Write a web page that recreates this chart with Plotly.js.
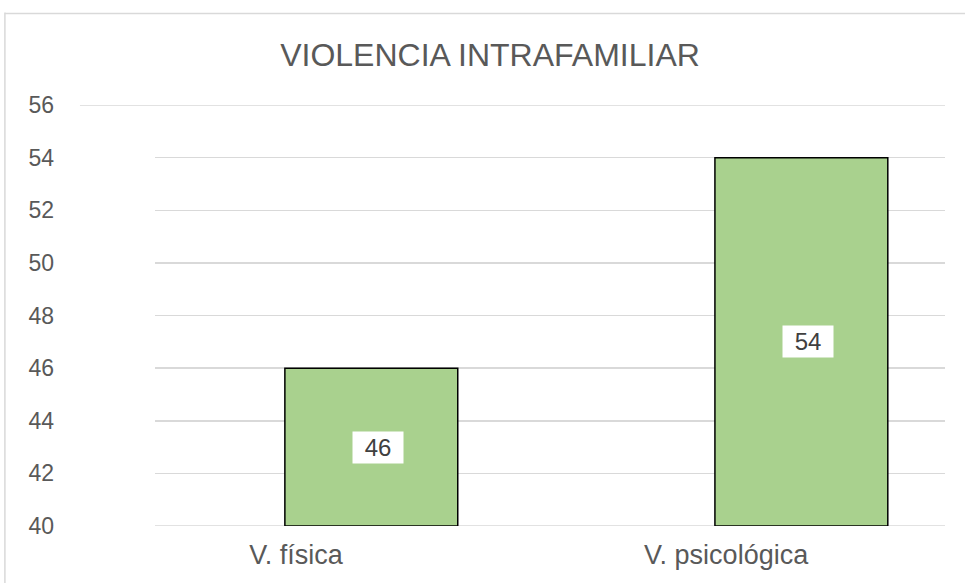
<!DOCTYPE html>
<html>
<head>
<meta charset="utf-8">
<script src="https://cdn.plot.ly/plotly-3.0.1.min.js"></script>
<style>
html,body{margin:0;padding:0;background:#fff;}
#chart{width:965px;height:583px;}
</style>
</head>
<body>
<div id="chart"></div>
<script>
var categories = ["V. física", "V. psicológica"];
var values = [46, 54];
var yTicks = [40, 42, 44, 46, 48, 50, 52, 54, 56];
var titleText = "VIOLENCIA INTRAFAMILIAR";

var barOffset = -0.026, barWidth = 0.402;
var yMin = yTicks[0], yMax = yTicks[yTicks.length - 1];
var FONT = "Liberation Sans, Arial, sans-serif";

var trace = {
  type: "bar",
  x: categories,
  y: values.map(function(v){ return v - yMin; }),
  base: yMin,
  offset: barOffset,
  width: barWidth,
  marker: {color: "#A9D18E", line: {color: "#000000", width: 1.5}},
  hoverinfo: "none"
};

var annotations = values.map(function(v, i){
  return {
    x: i + barOffset + barWidth / 2,
    y: (yMin + v) / 2,
    xref: "x", yref: "y",
    xshift: 7,
    text: String(v),
    showarrow: false,
    bgcolor: "#ffffff",
    width: 46, height: 27, borderpad: 2,
    font: {family: FONT, size: 24, color: "#404040"}
  };
});

var gridStyle = {color: "#d9d9d9", width: 1.5};
var shapes = [
  // top gridline, extending further left
  {type: "line", xref: "paper", yref: "y", x0: -0.095, x1: 1, y0: yMax, y1: yMax, line: gridStyle},
  // bottom gridline
  {type: "line", xref: "paper", yref: "y", x0: 0, x1: 1, y0: yMin, y1: yMin, line: gridStyle, layer: "below"},
  // chart area border (left and top)
  {type: "line", xref: "paper", yref: "paper", x0: -0.19, x1: -0.19, y0: -0.2, y1: 1.22,
   line: {color: "#d9d9d9", width: 1.5}},
  {type: "line", xref: "paper", yref: "paper", x0: -0.19, x1: 1.1, y0: 1.2175, y1: 1.2175,
   line: {color: "#d9d9d9", width: 1.5}}
];

var layout = {
  width: 965, height: 583,
  margin: {l: 155, r: 20, t: 105, b: 57},
  paper_bgcolor: "#ffffff",
  plot_bgcolor: "#ffffff",
  showlegend: false,
  title: {
    text: titleText,
    font: {family: FONT, size: 32, color: "#595959"},
    x: 490 / 965, xanchor: "center", xref: "container",
    y: 1 - 55 / 583, yanchor: "middle", yref: "container"
  },
  xaxis: {
    type: "category",
    range: [-0.328, 1.509],
    showgrid: false, zeroline: false, showline: false,
    ticks: "",
    tickfont: {family: FONT, size: 27, color: "#595959"},
    ticklabelstandoff: 10,
    fixedrange: true
  },
  yaxis: {
    range: [yMin, yMax],
    tickvals: yTicks,
    ticktext: yTicks.map(String),
    showgrid: true, gridcolor: "#d9d9d9", gridwidth: 1.5,
    zeroline: false, showline: false, ticks: "",
    tickfont: {family: FONT, size: 23, color: "#595959"},
    ticklabelstandoff: 100,
    fixedrange: true
  },
  annotations: annotations,
  shapes: shapes
};

Plotly.newPlot("chart", [trace], layout, {displayModeBar: false, staticPlot: true});
</script>
</body>
</html>
